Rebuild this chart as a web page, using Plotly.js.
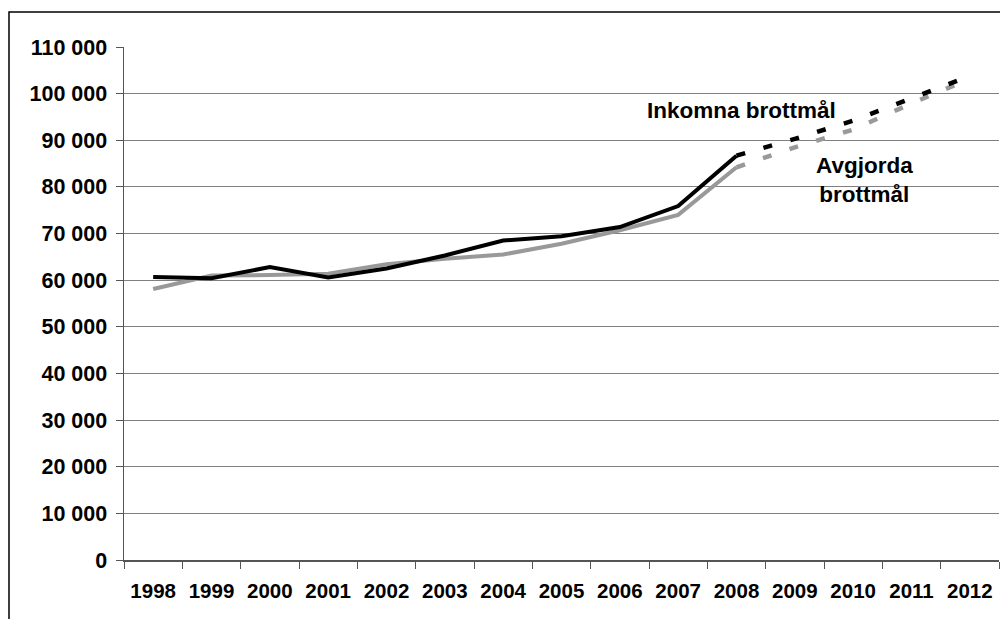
<!DOCTYPE html>
<html>
<head>
<meta charset="utf-8">
<script src="https://cdn.plot.ly/plotly-3.0.1.min.js"></script>
<style>
html,body{margin:0;padding:0;background:#fff;}
#chart{width:1000px;height:619px;}
</style>
</head>
<body>
<div id="chart"></div>
<script>
const years = ['1998','1999','2000','2001','2002','2003','2004','2005','2006','2007','2008','2009','2010','2011','2012'];
const histYears = ['1998','1999','2000','2001','2002','2003','2004','2005','2006','2007','2008'];
const progYears = ['2008','2009','2010','2011','2012'];
const inkomna = [60700, 60400, 62800, 60600, 62500, 65300, 68500, 69400, 71400, 75900, 86700];
const avgjorda = [58100, 61000, 61100, 61400, 63400, 64600, 65500, 67800, 70700, 74000, 84200];
const inkomnaProg = [86700, 90300, 94200, 99000, 103800];
const avgjordaProg = [84200, 88500, 92300, 97900, 103200];
const yTicks = [0,10000,20000,30000,40000,50000,60000,70000,80000,90000,100000,110000];
const yTickText = ['0','10 000','20 000','30 000','40 000','50 000','60 000','70 000','80 000','90 000','100 000','110 000'];
const labelInkomna = 'Inkomna brottmål';
const labelAvgjorda = 'Avgjorda<br>brottmål';

const BLACK = '#000000', GRAY = '#999999';
const traces = [
  {x: histYears, y: avgjorda, type:'scatter', mode:'lines', line:{color:GRAY, width:4}, hoverinfo:'skip'},
  {x: histYears, y: inkomna, type:'scatter', mode:'lines', line:{color:BLACK, width:4}, hoverinfo:'skip'},
  {x: progYears, y: avgjordaProg, type:'scatter', mode:'lines', line:{color:GRAY, width:4.5, dash:'9px,19px'}, hoverinfo:'skip'},
  {x: progYears, y: inkomnaProg, type:'scatter', mode:'lines', line:{color:BLACK, width:4.5, dash:'9px,19px'}, hoverinfo:'skip'}
];

const L=124, R=999, T=47, B=560;
const pw = R-L, ph = B-T;
const px = v => (v-L)/pw;
const py = v => (B-v)/ph;
const FONT = 'Liberation Sans, Arial, sans-serif';

const layout = {
  width:1000, height:619,
  margin:{l:L, r:1000-R, t:T, b:619-B, pad:0},
  paper_bgcolor:'#fff', plot_bgcolor:'#fff',
  showlegend:false,
  font:{family:FONT, color:'#000'},
  xaxis:{
    type:'category', categoryorder:'array', categoryarray: years,
    range:[-0.5, years.length-0.5],
    showgrid:false, zeroline:false,
    showline:true, linecolor:'#555', linewidth:1.5,
    ticks:'outside', tickson:'boundaries', ticklen:7, tickcolor:'#555', tickwidth:1,
    tickfont:{size:20.5, family:FONT, weight:'bold', color:'#000'},
    ticklabelstandoff:12
  },
  yaxis:{
    range:[0,110000], tickmode:'array', tickvals:yTicks, ticktext:yTickText,
    showgrid:true, gridcolor:'#808080', gridwidth:1, zeroline:false,
    showline:true, linecolor:'#555', linewidth:1.5,
    ticks:'outside', ticklen:7, tickcolor:'#555', tickwidth:1,
    tickfont:{size:21.5, family:FONT, weight:'bold', color:'#000'},
    ticklabelstandoff:4
  },
  annotations:[
    {xref:'paper', yref:'paper', x:px(741), y:py(110), text:labelInkomna, showarrow:false,
     font:{size:22.5, family:FONT, weight:'bold', color:'#000'}, xanchor:'center', yanchor:'middle'},
    {xref:'paper', yref:'paper', x:px(864), y:py(180), text:labelAvgjorda, showarrow:false, align:'center',
     font:{size:22.5, family:FONT, weight:'bold', color:'#000'}, xanchor:'center', yanchor:'middle'}
  ],
  shapes:[
    {type:'path', xref:'paper', yref:'paper',
     path:`M ${px(9)} ${py(619)} L ${px(9)} ${py(12)} L ${px(1000)} ${py(12)}`,
     line:{color:'#000', width:1.5}}
  ]
};
Plotly.newPlot('chart', traces, layout, {staticPlot:true, displayModeBar:false});
</script>
</body>
</html>
